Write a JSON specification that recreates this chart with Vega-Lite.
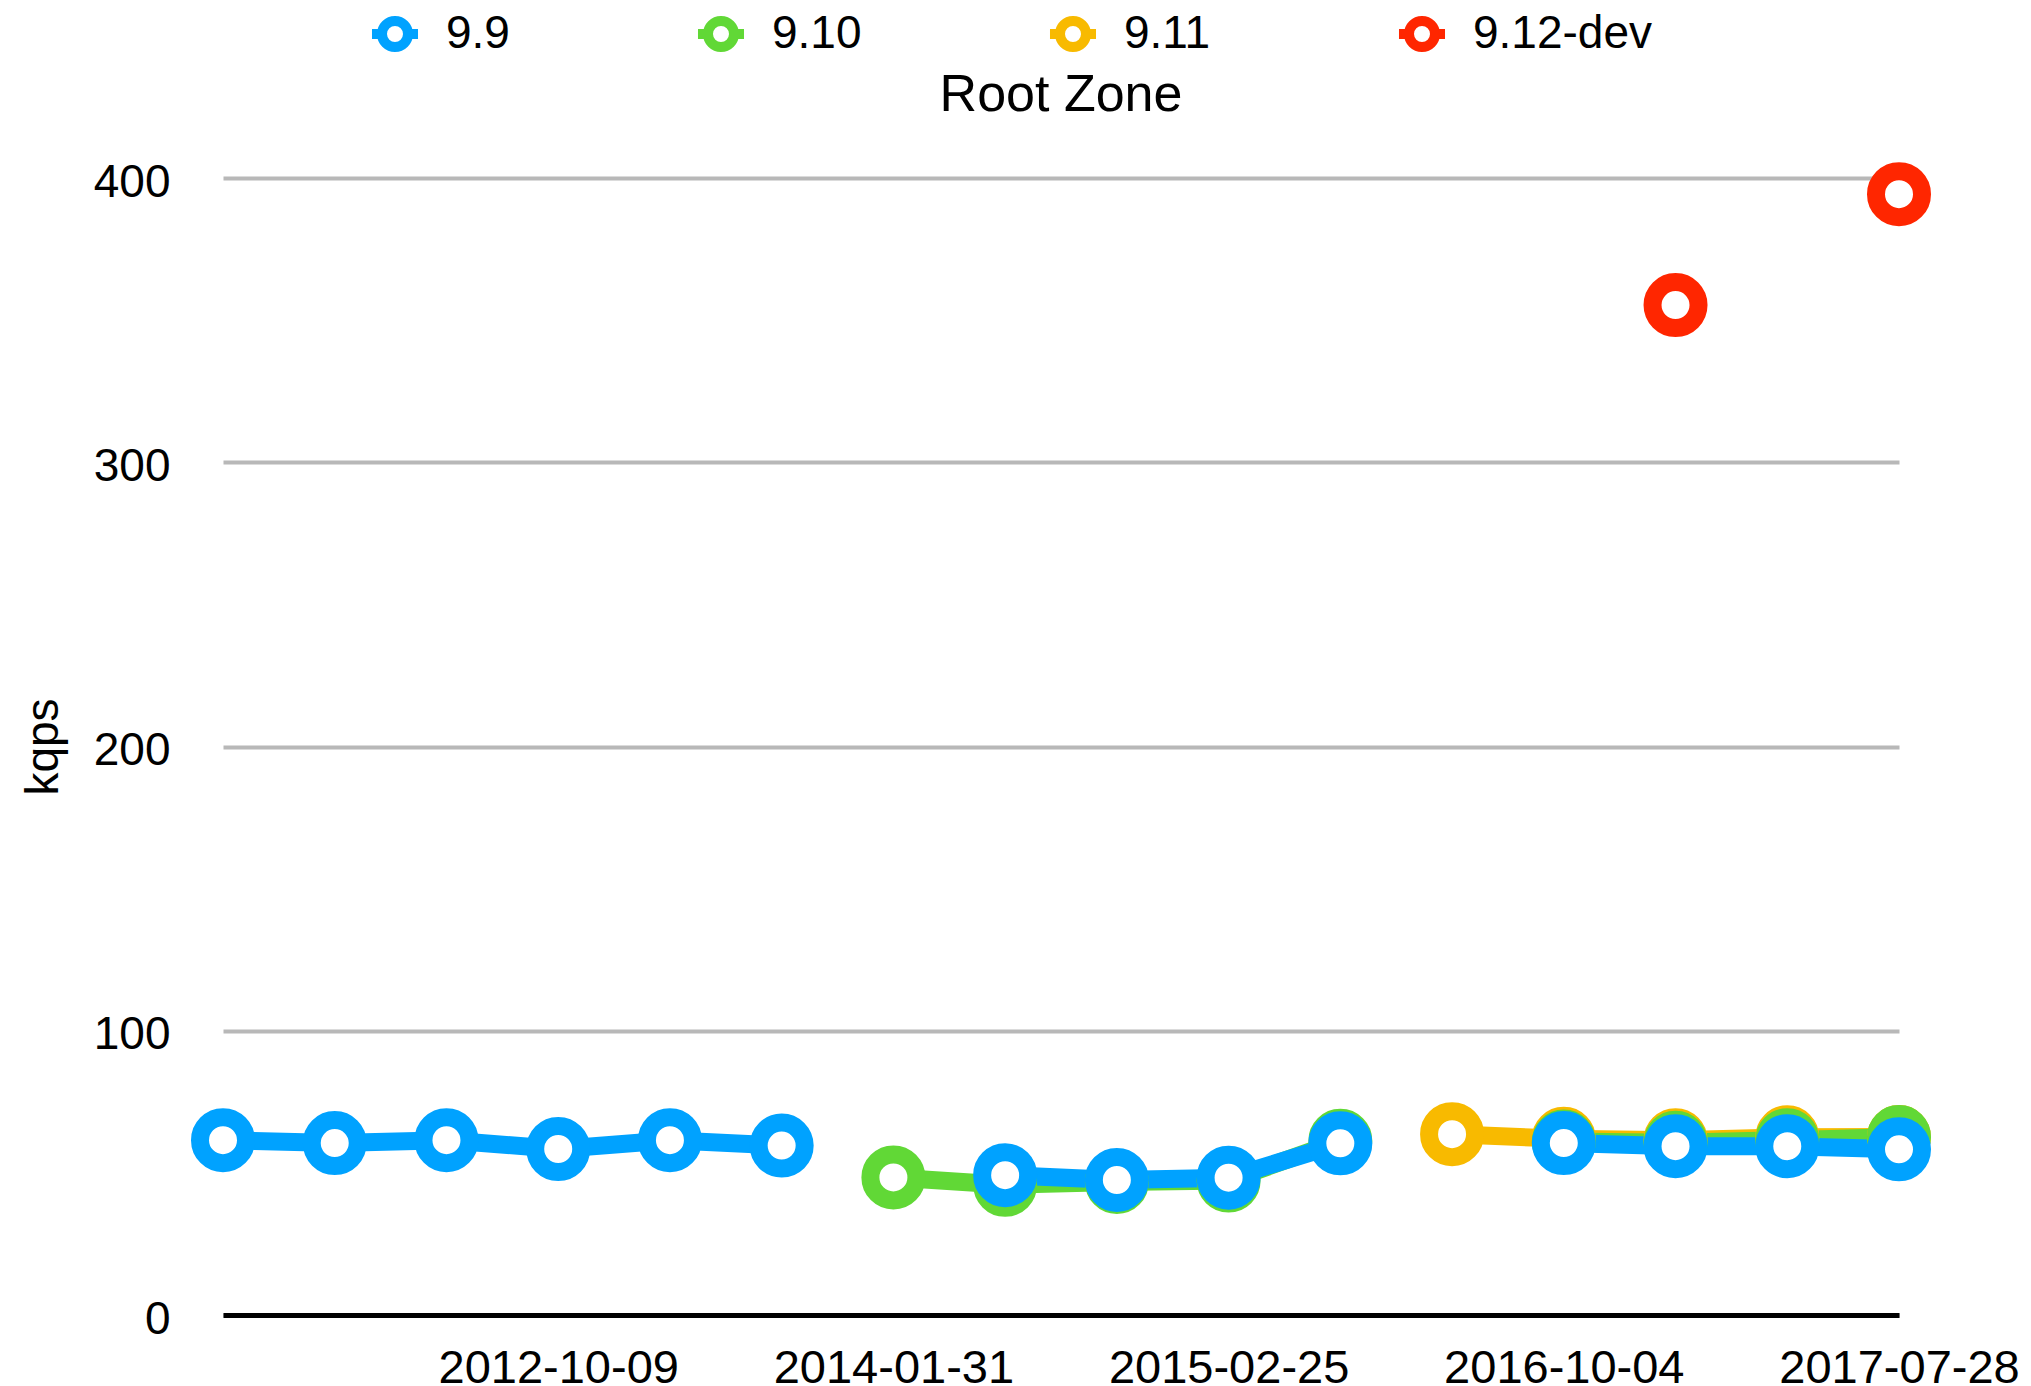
{
  "$schema": "https://vega.github.io/schema/vega-lite/v6.json",
  "width": 1676,
  "height": 1137,
  "autosize": {"type": "none"},
  "padding": {"left": 223, "top": 178, "right": 132, "bottom": 71},
  "background": "white",
  "title": {"text": "Root Zone", "fontSize": 52, "font": "Liberation Sans", "fontWeight": "normal", "anchor": "middle", "frame": "group", "baseline": "alphabetic", "offset": -152, "color": "black"},
  "data": {
    "values": [
      {"version": "9.11", "date": "2016-03-08", "kqps": 63.6},
      {"version": "9.11", "date": "2016-10-04", "kqps": 62.0},
      {"version": "9.11", "date": "2017-02-08", "kqps": 61.5},
      {"version": "9.11", "date": "2017-04-21", "kqps": 62.5},
      {"version": "9.11", "date": "2017-07-28", "kqps": 62.6},
      {"version": "9.10", "date": "2014-01-31", "kqps": 48.4},
      {"version": "9.10", "date": "2014-05-08", "kqps": 45.8},
      {"version": "9.10", "date": "2014-09-19", "kqps": 46.8},
      {"version": "9.10", "date": "2015-02-25", "kqps": 47.3},
      {"version": "9.10", "date": "2015-09-02", "kqps": 61.3},
      {"version": "9.10", "date": "2016-03-08", "kqps": null},
      {"version": "9.10", "date": "2016-10-04", "kqps": 61.0},
      {"version": "9.10", "date": "2017-02-08", "kqps": 60.6},
      {"version": "9.10", "date": "2017-04-21", "kqps": 61.5},
      {"version": "9.10", "date": "2017-07-28", "kqps": 62.6},
      {"version": "9.9", "date": "2012-02-29", "kqps": 61.5},
      {"version": "9.9", "date": "2012-05-15", "kqps": 60.5},
      {"version": "9.9", "date": "2012-07-24", "kqps": 61.5},
      {"version": "9.9", "date": "2012-10-09", "kqps": 58.4},
      {"version": "9.9", "date": "2013-01-24", "kqps": 61.5},
      {"version": "9.9", "date": "2013-06-05", "kqps": 59.6},
      {"version": "9.9", "date": "2014-01-31", "kqps": null},
      {"version": "9.9", "date": "2014-05-08", "kqps": 49.2},
      {"version": "9.9", "date": "2014-09-19", "kqps": 47.5},
      {"version": "9.9", "date": "2015-02-25", "kqps": 48.3},
      {"version": "9.9", "date": "2015-09-02", "kqps": 60.4},
      {"version": "9.9", "date": "2016-03-08", "kqps": null},
      {"version": "9.9", "date": "2016-10-04", "kqps": 60.5},
      {"version": "9.9", "date": "2017-02-08", "kqps": 59.4},
      {"version": "9.9", "date": "2017-04-21", "kqps": 59.4},
      {"version": "9.9", "date": "2017-07-28", "kqps": 58.3},
      {"version": "9.12-dev", "date": "2017-02-08", "kqps": 355.3},
      {"version": "9.12-dev", "date": "2017-04-21", "kqps": null},
      {"version": "9.12-dev", "date": "2017-07-28", "kqps": 394.3}
    ]
  },
  "encoding": {
    "x": {
      "field": "date", "type": "ordinal",
      "scale": {"type": "point", "padding": 0},
      "axis": {
        "title": null, "labelAngle": 0, "ticks": false, "tickSize": 0,
        "domainColor": "black", "domainWidth": 5, "grid": false,
        "labelFontSize": 47, "labelFont": "Liberation Sans", "labelColor": "black", "labelPadding": 30, "labelLimit": 0,
        "values": ["2012-10-09", "2014-01-31", "2015-02-25", "2016-10-04", "2017-07-28"]
      }
    },
    "y": {
      "field": "kqps", "type": "quantitative",
      "scale": {"domain": [0, 400], "nice": false},
      "axis": {
        "title": "kqps", "titleFontSize": 46, "titleFont": "Liberation Sans", "titleFontWeight": "normal", "titleColor": "black", "titlePadding": 26,
        "values": [0, 100, 200, 300, 400], "grid": true, "gridColor": "#b8b8b8", "gridWidth": 4,
        "domain": false, "ticks": false, "tickSize": 0,
        "labelFontSize": 46, "labelFont": "Liberation Sans", "labelColor": "black", "labelPadding": 53, "labelOffset": 4
      }
    },
    "color": {
      "field": "version", "type": "nominal",
      "scale": {"domain": ["9.9", "9.10", "9.11", "9.12-dev"], "range": ["#00a2ff", "#61d836", "#f8ba00", "#ff2600"]},
      "legend": {
        "orient": "none", "legendX": 149, "legendY": -167, "direction": "horizontal", "title": null,
        "symbolType": "M-1.77,0L-1,0M1,0L1.77,0M-1,0A1,1 0 1,0 1,0A1,1 0 1,0 -1,0Z",
        "symbolSize": 676, "symbolStrokeWidth": 10, "symbolFillColor": "white", "symbolOpacity": 1,
        "labelFontSize": 46, "labelFont": "Liberation Sans", "labelColor": "black", "labelOffset": 28, "labelLimit": 0,
        "columnPadding": 167, "padding": 0
      }
    }
  },
  "layer": [
    {"mark": {"type": "line", "strokeWidth": 18, "invalid": "break-paths-show-domains", "clip": false}},
    {"mark": {"type": "point", "shape": "circle", "filled": false, "fill": "white", "size": 2116, "strokeWidth": 18, "opacity": 1, "clip": false}}
  ],
  "config": {"view": {"stroke": null}}
}
